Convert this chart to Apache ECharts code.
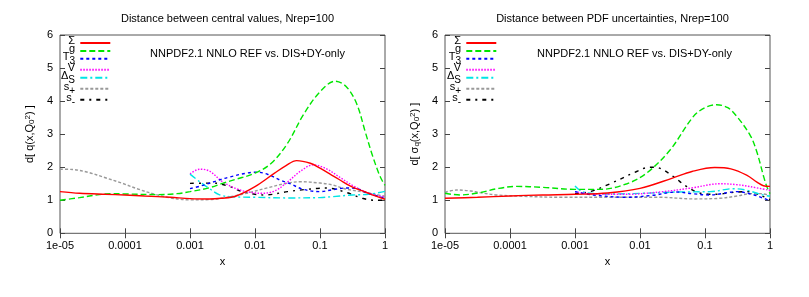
<!DOCTYPE html>
<html>
<head>
<meta charset="utf-8">
<script src="https://cdn.jsdelivr.net/npm/echarts@6/dist/echarts.min.js"></script>
<style>
html,body{margin:0;padding:0;background:#fff;}
#chart{width:809px;height:297px;}
</style>
</head>
<body>
<div id="chart"></div>
<script>
// ---------- tick labels / names ----------
const xTickLabels = ['1e-05', '0.0001', '0.001', '0.01', '0.1', '1'];
const seriesNames = ['Σ', 'g', 'T3', 'V', 'ΔS', 's+', 's-'];
const leftTitle = 'Distance between central values, Nrep=100';
const rightTitle = 'Distance between PDF uncertainties, Nrep=100';
const noteText = 'NNPDF2.1 NNLO REF vs. DIS+DY-only';

// ---------- left panel: distance between central values ----------
const cvSigma = [[1e-5,1.26],[2e-5,1.21],[5e-5,1.18],[1e-4,1.16],[2e-4,1.13],[5e-4,1.09],[1e-3,1.05],[2e-3,1.04],[3e-3,1.06],[5e-3,1.12],[0.01,1.41],[0.02,1.82],[0.03,2.05],[0.0437,2.2],[0.071,2.12],[0.1,1.97],[0.151,1.76],[0.2,1.62],[0.3,1.42],[0.5,1.25],[0.71,1.13],[1,1.03]];
const cvG = [[1e-5,1.0],[2e-5,1.08],[4e-5,1.17],[6.3e-5,1.2],[1e-4,1.19],[3.16e-4,1.17],[6.3e-4,1.2],[1e-3,1.26],[2e-3,1.38],[3.16e-3,1.51],[5e-3,1.63],[0.01,1.82],[0.0178,2.12],[0.0316,2.72],[0.056,3.6],[0.1,4.28],[0.17,4.6],[0.25,4.45],[0.363,3.94],[0.5,3.05],[0.63,2.4],[0.79,1.85],[0.89,1.62],[1,1.45]];
const cvT3 = [[1e-3,1.35],[1.58e-3,1.45],[2.5e-3,1.58],[4e-3,1.7],[7.4e-3,1.82],[0.0107,1.85],[0.0158,1.78],[0.025,1.6],[0.0347,1.5],[0.055,1.33],[0.1,1.26],[0.158,1.32],[0.25,1.37],[0.355,1.36],[0.525,1.22],[0.79,1.12],[1,1.06]];
const cvV = [[1e-3,1.8],[1.41e-3,1.94],[2e-3,1.88],[3.16e-3,1.56],[5e-3,1.36],[7.4e-3,1.26],[0.0126,1.21],[0.02,1.28],[0.0316,1.55],[0.05,1.88],[0.079,2.07],[0.126,1.95],[0.2,1.7],[0.316,1.45],[0.5,1.25],[0.71,1.15],[1,1.1]];
const cvDeltaS = [[1e-3,1.79],[1.41e-3,1.56],[2e-3,1.35],[2.8e-3,1.17],[4e-3,1.11],[0.01,1.09],[0.0316,1.07],[0.1,1.08],[0.158,1.11],[0.316,1.16],[0.56,1.18],[1,1.27]];
const cvSPlus = [[1e-5,1.94],[1.58e-5,1.93],[2.75e-5,1.84],[5e-5,1.68],[8.9e-5,1.52],[1.58e-4,1.34],[2.9e-4,1.18],[5e-4,1.07],[1e-3,1.01],[2e-3,1.02],[4e-3,1.1],[7.4e-3,1.21],[0.0158,1.38],[0.0316,1.52],[0.05,1.56],[0.1,1.52],[0.158,1.46],[0.25,1.34],[0.5,1.24],[0.71,1.18],[1,1.12]];
const cvSMinus = [[1e-3,1.51],[2.3e-3,1.52],[4e-3,1.42],[6.3e-3,1.26],[0.01,1.18],[0.0141,1.16],[0.0316,1.26],[0.063,1.33],[0.126,1.37],[0.25,1.24],[0.447,1.06],[0.71,1.0],[1,1.0]];

// ---------- right panel: distance between PDF uncertainties ----------
const erSigma = [[1e-5,1.06],[3.16e-5,1.09],[1e-4,1.13],[3.16e-4,1.16],[1e-3,1.18],[3.16e-3,1.22],[0.01,1.36],[0.0316,1.67],[0.063,1.87],[0.141,1.99],[0.25,1.95],[0.437,1.76],[0.63,1.55],[0.79,1.44],[1,1.42]];
const erG = [[1e-5,1.21],[1.7e-5,1.16],[3.47e-5,1.23],[6.3e-5,1.35],[1.26e-4,1.42],[3.16e-4,1.39],[1e-3,1.33],[2.5e-3,1.33],[6.3e-3,1.5],[0.0126,1.82],[0.029,2.52],[0.066,3.53],[0.1,3.8],[0.151,3.89],[0.224,3.8],[0.31,3.53],[0.5,2.95],[0.63,2.45],[0.79,1.75],[0.89,1.42],[1,1.2]];
const erT3 = [[1e-3,1.26],[1.9e-3,1.16],[6.3e-3,1.09],[0.0158,1.15],[0.0363,1.25],[0.063,1.2],[0.12,1.16],[0.31,1.26],[0.55,1.17],[0.79,1.06],[1,0.99]];
const erV = [[1e-3,1.26],[1.9e-3,1.19],[6.3e-3,1.18],[0.02,1.25],[0.066,1.38],[0.126,1.48],[0.17,1.5],[0.316,1.47],[0.5,1.41],[1,1.3]];
const erDeltaS = [[1e-3,1.43],[1.26e-3,1.27],[2e-3,1.2],[3.47e-3,1.19],[0.0112,1.21],[0.0363,1.25],[0.12,1.26],[0.275,1.35],[0.447,1.3],[0.71,1.18],[1,1.12]];
const erSPlus = [[1e-5,1.24],[1.51e-5,1.31],[2.5e-5,1.28],[3.47e-5,1.23],[6.3e-5,1.16],[1.58e-4,1.12],[6.3e-4,1.09],[3.16e-3,1.09],[0.02,1.09],[0.066,1.04],[0.17,1.06],[0.316,1.13],[0.5,1.2],[0.71,1.2],[1,1.15]];
const erSMinus = [[1e-3,1.2],[1.7e-3,1.26],[3.47e-3,1.5],[8.9e-3,1.87],[0.0141,2.0],[0.02,1.97],[0.0324,1.72],[0.0525,1.41],[0.083,1.22],[0.151,1.18],[0.25,1.23],[0.447,1.26],[0.71,1.15],[1,1.02]];

const leftData = [cvSigma, cvG, cvT3, cvV, cvDeltaS, cvSPlus, cvSMinus];
const rightData = [erSigma, erG, erT3, erV, erDeltaS, erSPlus, erSMinus];

// ---------- styles ----------
const FONT = 'Liberation Sans, Arial, sans-serif';
const lineStyles = [
  {color:'#ff0000', width:1.4, type:'solid'},
  {color:'#00e600', width:1.4, type:[6,3]},
  {color:'#0000ff', width:1.4, type:[3,3]},
  {color:'#ff00ff', width:1.4, type:[1.5,1.5]},
  {color:'#00e5e5', width:1.4, type:[7,3,2,3]},
  {color:'#999999', width:1.4, type:[3,2]},
  {color:'#000000', width:1.4, type:[4,5,2,5]}
];
const legendRich = {
  n: {fontSize: 11, fontFamily: FONT, color:'#000', lineHeight: 14, verticalAlign:'top'},
  s: {fontSize: 10, fontFamily: FONT, color:'#000', lineHeight: 8, verticalAlign:'bottom'},
  h: {fontSize: 1, fontFamily: FONT, color:'rgba(0,0,0,0)', lineHeight: 15, verticalAlign:'middle'}
};
function legendFmt(name) {
  if (name === 'T3') return '{n|T}{s|3}{h| }';
  if (name === 'ΔS') return '{n|Δ}{s|S}{h| }';
  if (name === 's+') return '{n|s}{s|+}{h| }';
  if (name === 's-') return '{n|s}{s|-}{h| }';
  return '{n|' + name + '}{h| }';
}
function xFmt(v) {
  const e = Math.round(Math.log10(v));
  return xTickLabels[e + 5];
}

const grids = [
  {left: 60, top: 35, width: 325, height: 198.3, show: true, borderColor: '#555', borderWidth: 1},
  {left: 445, top: 35, width: 325, height: 198.3, show: true, borderColor: '#555', borderWidth: 1}
];

function mkX(gi, pos, labels) {
  return {
    type: 'log', logBase: 10, gridIndex: gi, position: pos, min: 1e-5, max: 1,
    axisLine: {show: false},
    axisTick: {show: true, inside: true, length: 5, lineStyle: {color: '#444'}},
    axisLabel: {show: labels, formatter: xFmt, color: '#000', fontFamily: FONT, fontSize: 11, margin: 7},
    splitLine: {show: false},
    name: labels ? 'x' : '', nameLocation: 'middle', nameGap: 22,
    nameTextStyle: {color: '#000', fontFamily: FONT, fontSize: 11}
  };
}
const yRich = {
  b: {fontSize: 11, fontFamily: FONT, color: '#000', lineHeight: 12, verticalAlign: 'middle'},
  sub: {fontSize: 8, fontFamily: FONT, color: '#000', lineHeight: 8, verticalAlign: 'bottom'},
  sup: {fontSize: 8, fontFamily: FONT, color: '#000', lineHeight: 8, verticalAlign: 'top'}
};
function mkY(gi, pos, labels, nameStr, gap) {
  return {
    type: 'value', gridIndex: gi, position: pos, min: 0, max: 6, interval: 1,
    axisLine: {show: false},
    axisTick: {show: true, inside: true, length: 5, lineStyle: {color: '#444'}},
    axisLabel: {show: labels, color: '#000', fontFamily: FONT, fontSize: 11, margin: 7},
    splitLine: {show: false},
    name: nameStr || '', nameLocation: 'middle', nameRotate: 90, nameGap: gap || 0,
    nameTextStyle: {rich: yRich, lineHeight: 18}
  };
}

const series = [];
leftData.forEach(function (d, i) {
  series.push({name: seriesNames[i], type: 'line', xAxisIndex: 0, yAxisIndex: 0, data: d,
    smooth: 0.35, symbol: 'none', lineStyle: lineStyles[i], color: lineStyles[i].color, z: 10 - i});
});
rightData.forEach(function (d, i) {
  series.push({name: seriesNames[i], type: 'line', xAxisIndex: 1, yAxisIndex: 1, data: d,
    smooth: 0.35, symbol: 'none', lineStyle: lineStyles[i], color: lineStyles[i].color, z: 10 - i});
});

function mkLegend(left) {
  return {
    data: seriesNames, orient: 'vertical', left: left, top: 35.5, padding: 0,
    align: 'right', itemWidth: 30, itemHeight: 11, itemGap: -4,
    selectedMode: false,
    itemStyle: {opacity: 0},
    formatter: legendFmt,
    textStyle: {width: 14, align: 'right', rich: legendRich, fontFamily: FONT, fontSize: 11}
  };
}

const option = {
  animation: false,
  backgroundColor: '#fff',
  title: [
    {text: leftTitle, left: 222.5, top: 8, textAlign: 'center', textStyle: {fontFamily: FONT, fontSize: 11, fontWeight: 'normal', color: '#000'}},
    {text: rightTitle, left: 607.5, top: 8, textAlign: 'center', textStyle: {fontFamily: FONT, fontSize: 11, fontWeight: 'normal', color: '#000'}}
  ],
  grid: grids,
  xAxis: [mkX(0, 'bottom', true), mkX(1, 'bottom', true), mkX(0, 'top', false), mkX(1, 'top', false)],
  yAxis: [
    mkY(0, 'left', true, '{b|d[ q(x,Q}{sub|0}{sup|2}{b|) ]}', 24.5),
    mkY(1, 'left', true, '{b|d[ σ}{sub|q}{b|(x,Q}{sub|0}{sup|2}{b|) ]}', 24),
    mkY(0, 'right', false), mkY(1, 'right', false)
  ],
  legend: [mkLegend(61), mkLegend(447)],
  graphic: [
    {type: 'text', left: 150, top: 48, style: {text: noteText, font: '11px ' + FONT, fill: '#000'}},
    {type: 'text', left: 537, top: 48, style: {text: noteText, font: '11px ' + FONT, fill: '#000'}}
  ],
  series: series
};
const chart = echarts.init(document.getElementById('chart'), null, {renderer: 'canvas'});
chart.setOption(option);
</script>
</body>
</html>
